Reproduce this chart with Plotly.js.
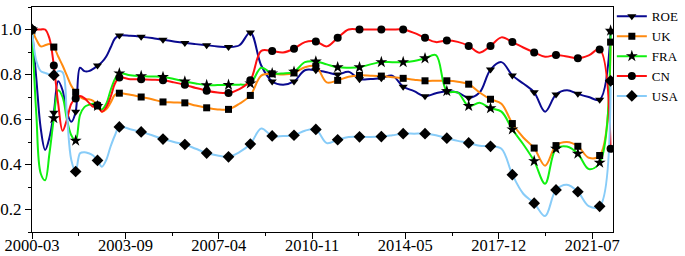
<!DOCTYPE html>
<html><head><meta charset="utf-8">
<script src="https://cdn.plot.ly/plotly-3.0.1.min.js"></script>
<style>html,body{margin:0;padding:0;background:#fff}#chart{width:685px;height:256px}</style>
</head><body><div id="chart"></div>
<script>
// x positions (observation index); markers every 10th index plus the last one
const gridX = [0,2,4,6,8,10,12,14,16,18,20,22,24,26,28,30,32,34,36,38,40,
  45,50,55,60,65,70,75,80,85,90,95,100,105,110,115,120,125,130,135,140,145,150,155,160,
  165,170,175,180,185,190,195,200,205,210,215,220,225,230,235,240,245,250,255,260,265];

const tickPos = [0, 42.8, 85.5, 128.3, 171, 213.8, 256.6];
const tickLabels = ['2000-03','2003-09','2007-04','2010-11','2014-05','2017-12','2021-07'];

const seriesNames = ['ROE','UK','FRA','CN','USA'];

const roe = [1.0,0.78,0.56,0.465,0.52,0.63,0.77,0.73,0.63,0.59,0.635,0.83,0.815,0.815,0.825,0.84,0.855,0.88,0.92,0.96,0.973,
  0.972,0.968,0.962,0.954,0.947,0.94,0.935,0.93,0.925,0.922,0.93,0.987,0.84,0.769,0.755,0.769,0.819,0.819,0.81,0.80,0.812,0.779,0.78,0.783,
  0.795,0.746,0.726,0.703,0.717,0.726,0.72,0.697,0.72,0.822,0.855,0.796,0.76,0.721,0.635,0.711,0.73,0.714,0.70,0.688,0.99];

const uk = [1.0,0.955,0.925,0.93,0.935,0.922,0.88,0.84,0.795,0.75,0.721,0.70,0.69,0.69,0.683,0.661,0.635,0.645,0.675,0.71,0.717,
  0.71,0.70,0.69,0.678,0.676,0.674,0.662,0.652,0.645,0.645,0.67,0.707,0.795,0.803,0.80,0.807,0.832,0.836,0.765,0.774,0.79,0.796,0.795,0.793,
  0.788,0.783,0.777,0.772,0.772,0.772,0.768,0.757,0.72,0.69,0.67,0.582,0.52,0.473,0.395,0.484,0.50,0.481,0.43,0.44,0.944];

const fra = [1.0,0.62,0.36,0.33,0.45,0.606,0.73,0.70,0.60,0.53,0.506,0.62,0.655,0.665,0.67,0.66,0.645,0.67,0.73,0.78,0.805,
  0.797,0.793,0.791,0.789,0.78,0.769,0.76,0.753,0.753,0.754,0.755,0.76,0.83,0.805,0.805,0.812,0.855,0.858,0.845,0.832,0.83,0.832,0.845,0.855,
  0.855,0.855,0.86,0.872,0.886,0.726,0.72,0.66,0.674,0.65,0.635,0.556,0.49,0.415,0.315,0.47,0.48,0.448,0.38,0.408,0.995];

const cn = [1.0,1.0,1.0,1.0,0.96,0.84,0.67,0.55,0.60,0.67,0.693,0.704,0.695,0.675,0.657,0.663,0.635,0.655,0.70,0.76,0.787,
  0.779,0.779,0.777,0.774,0.765,0.754,0.74,0.728,0.72,0.718,0.735,0.774,0.905,0.904,0.898,0.915,0.944,0.947,0.925,0.963,1.0,1.0,1.0,1.0,
  1.0,1.0,0.985,0.963,0.944,0.951,0.945,0.927,0.897,0.927,0.965,0.944,0.92,0.898,0.879,0.887,0.88,0.872,0.885,0.911,0.47];

const usa = [1.0,0.86,0.815,0.807,0.80,0.797,0.815,0.81,0.62,0.42,0.369,0.45,0.455,0.45,0.44,0.418,0.39,0.42,0.48,0.53,0.567,
  0.557,0.545,0.53,0.513,0.50,0.489,0.47,0.451,0.44,0.434,0.455,0.491,0.56,0.527,0.527,0.53,0.55,0.556,0.495,0.51,0.522,0.523,0.522,0.524,
  0.53,0.537,0.537,0.537,0.53,0.517,0.505,0.496,0.483,0.481,0.47,0.355,0.27,0.228,0.171,0.287,0.31,0.279,0.215,0.214,0.772];

const values = [roe, uk, fra, cn, usa];
const colors = ['#0a0a90','#ff8a10','#10f010','#ff1010','#88ccf8'];
const symbols = ['triangle-down','square','star','circle','diamond'];
const msizes = [8,7,9,8,9];

const lastX = gridX[gridX.length-1];
const isMarker = x => (x % 10 === 0) || x === lastX;

const traces = [];
values.forEach((v,i)=>{
  traces.push({x:gridX, y:v, type:'scatter', mode:'lines', line:{color:colors[i], width:2, shape:'spline', smoothing:1},
    showlegend:false, hoverinfo:'skip'});
});
values.forEach((v,i)=>{
  const mx=[], my=[];
  gridX.forEach((x,j)=>{ if(isMarker(x)){ mx.push(x); my.push(v[j]); } });
  traces.push({x:mx, y:my, type:'scatter', mode:'markers', marker:{color:'#000', symbol:symbols[i], size:msizes[i]},
    showlegend:false});
});
seriesNames.forEach((n,i)=>{
  traces.push({x:[null], y:[null], type:'scatter', mode:'lines+markers', name:n,
    line:{color:colors[i], width:2}, marker:{color:'#000', symbol:symbols[i], size:msizes[i]}});
});

const minorX = [];
for(let k=0;k<tickPos.length-1;k++) minorX.push((tickPos[k]+tickPos[k+1])/2);

const layout = {
  width:685, height:256,
  margin:{l:32, r:69, t:1, b:24},
  paper_bgcolor:'#fff', plot_bgcolor:'#fff',
  font:{family:'Liberation Serif', color:'#000', size:17},
  xaxis:{range:[0,266.1], tickmode:'array', tickvals:tickPos, ticktext:tickLabels,
    showgrid:false, zeroline:false, showline:true, linecolor:'#000', linewidth:1, mirror:true,
    ticks:'outside', ticklen:6, tickcolor:'#000', tickfont:{family:'Liberation Serif', size:16.5}, ticklabelstandoff:-8,
    minor:{tickmode:'array', tickvals:minorX, ticks:'outside', ticklen:3, tickcolor:'#000'}},
  yaxis:{range:[0.1,1.1], tickmode:'array', tickvals:[0.2,0.4,0.6,0.8,1.0], ticktext:['0.2','0.4','0.6','0.8','1.0'],
    showgrid:false, zeroline:false, showline:true, linecolor:'#000', linewidth:1, mirror:true,
    ticks:'outside', ticklen:6, tickcolor:'#000', tickfont:{family:'Liberation Serif', size:17},
    minor:{tickmode:'array', tickvals:[0.1,0.3,0.5,0.7,0.9,1.1], ticks:'outside', ticklen:3, tickcolor:'#000'}},
  legend:{x:0.998, xanchor:'left', y:1.025, yanchor:'top', font:{family:'Liberation Serif', size:13}, bgcolor:'rgba(0,0,0,0)', borderwidth:0,
    tracegroupgap:0, itemclick:false},
  showlegend:true
};
Plotly.newPlot('chart', traces, layout, {staticPlot:true});
</script>
</body></html>
